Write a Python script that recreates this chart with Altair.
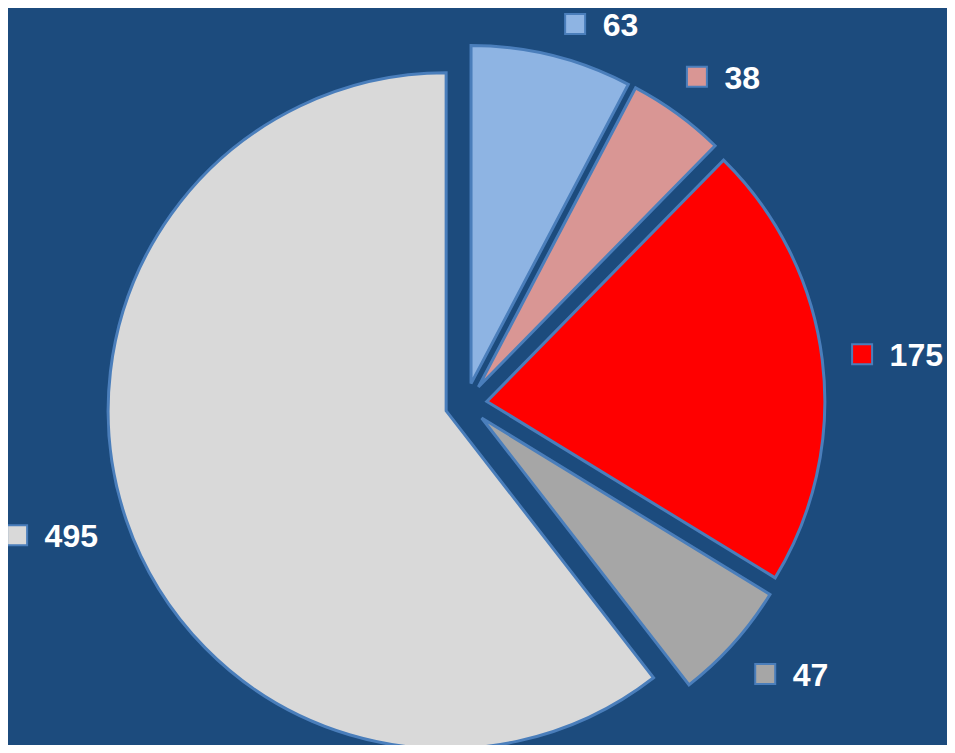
import altair as alt
import pandas as pd

# ---- data ----
labels = ["63", "38", "175", "47", "495"]
values = [63, 38, 175, 47, 495]
colors = ["#8eb4e3", "#d99694", "#ff0000", "#a6a6a6", "#d9d9d9"]
order = [1, 2, 3, 4, 5]

df = pd.DataFrame({"label": labels, "value": values, "color": colors, "order": order})

# layout constants (view coordinates)
W, H = 939, 737
CX, CY = 458, 396       # pie centre
R = 338                 # pie radius
EXPLODE = 21            # explosion distance
LRX, LRY = 437, 405     # label ellipse radii
TOP = 11                # label slide clamp
TOP_SHOW = 16           # label display clamp (keeps text inside the view)
CHARW = 17.8            # approx digit width at 32px

base = (
    alt.Chart(df)
    .transform_window(cum="sum(value)", sort=[alt.SortField("order")], frame=[None, 0])
    .transform_joinaggregate(total="sum(value)")
    .transform_calculate(
        t0="2*PI*(datum.cum - datum.value)/datum.total",
        t1="2*PI*datum.cum/datum.total",
    )
    .transform_calculate(mid="(datum.t0 + datum.t1)/2")
    .transform_calculate(
        cx=f"{CX} + {EXPLODE}*sin(datum.mid)",
        cy=f"{CY} - {EXPLODE}*cos(datum.mid)",
        ly=f"{CY} - {LRY}*cos(datum.mid)",
    )
    .transform_calculate(
        bslide=f"max({TOP}, datum.ly)",
        by=f"max({TOP_SHOW}, datum.ly)",
    )
    .transform_calculate(
        # slide along the label ellipse when the label is pushed down from the top
        bx=f"{CX} + (sin(datum.mid) < 0 ? -1 : 1)*{LRX}*sqrt(max(0, 1 - pow(({CY} - datum.bslide)/{LRY}, 2)))"
    )
    .transform_calculate(
        tx=f"min(datum.bx + 1 - 9*(length(datum.label) - 2), {W} - 4 - {CHARW}*length(datum.label))"
    )
    .transform_calculate(sx="datum.tx - 27.5")
)

arcs = base.mark_arc(radius=R, stroke="#4a7ebb", strokeWidth=3).encode(
    theta=alt.Theta("t0:Q", scale=None, stack=None),
    theta2="t1:Q",
    x=alt.X("cx:Q", scale=None, axis=None),
    y=alt.Y("cy:Q", scale=None, axis=None),
    fill=alt.Fill("color:N", scale=None, legend=None),
    order=alt.Order("order:Q"),
)

squares = base.mark_square(size=400, stroke="#4a7ebb", strokeWidth=2, opacity=1).encode(
    x=alt.X("sx:Q", scale=None, axis=None),
    y=alt.Y("by:Q", scale=None, axis=None),
    fill=alt.Fill("color:N", scale=None, legend=None),
)

texts = base.mark_text(
    align="left", baseline="middle", font="Liberation Sans", fontWeight="bold",
    fontSize=32, color="white", dy=2,
).encode(
    x=alt.X("tx:Q", scale=None, axis=None),
    y=alt.Y("by:Q", scale=None, axis=None),
    text="label:N",
)

chart = (
    alt.layer(arcs, squares, texts)
    .properties(width=W, height=H, padding=0, autosize=alt.AutoSizeParams(type="none"),
                background="#1c4b7d")
    .configure_view(stroke=None)
)

chart.save("out.html", embed_options={"renderer": "svg", "actions": False})
